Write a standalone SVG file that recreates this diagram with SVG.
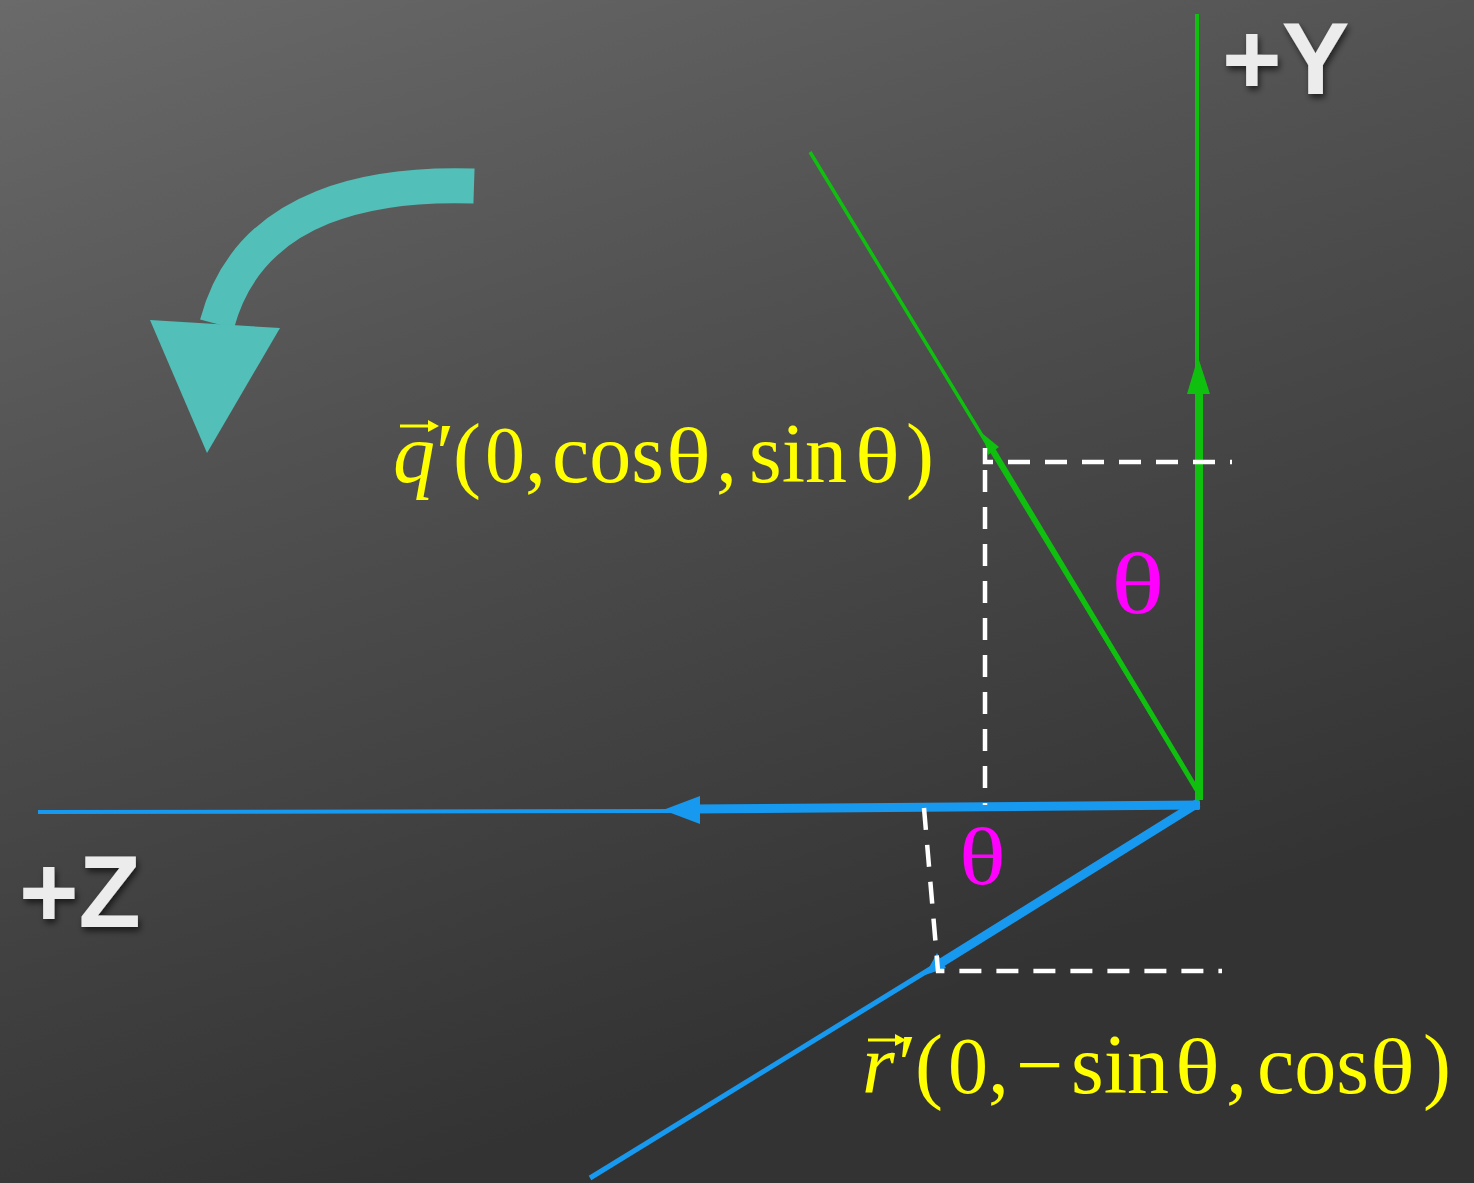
<svg xmlns="http://www.w3.org/2000/svg" width="1474" height="1183" viewBox="0 0 1474 1183">
  <defs>
    <linearGradient id="bg" x1="0" y1="0" x2="400" y2="1183" gradientUnits="userSpaceOnUse">
      <stop offset="0" stop-color="#6a6a6a"/>
      <stop offset="0.4" stop-color="#525252"/>
      <stop offset="1" stop-color="#333333"/>
    </linearGradient>
    <filter id="shadow" x="-20%" y="-20%" width="140%" height="150%">
      <feDropShadow dx="2" dy="4" stdDeviation="3" flood-color="#000" flood-opacity="0.6"/>
    </filter>
  </defs>
  <style>
    .axis { font-family: "Liberation Sans", Arial, sans-serif; font-weight: bold; font-size: 102px; fill: #ececec; }
    .math { font-family: "Liberation Serif", "Times New Roman", serif; font-size: 84px; fill: #ffff00; }
    .mth { font-family: "Liberation Serif", "Times New Roman", serif; font-size: 78px; fill: #ffff00; }
    .it { font-style: italic; }
    .theta { font-family: "Liberation Serif", "Times New Roman", serif; fill: #ff00ff; }
    .dash { fill: none; stroke: #ffffff; stroke-width: 4.5; stroke-dasharray: 22 15; }
    .green { stroke: #0fc00f; fill: none; }
    .greenfill { fill: #0fc00f; }
    .blue { stroke: #1799f0; fill: none; }
    .bluefill { fill: #1799f0; }
    .accent { stroke: #ffff00; stroke-width: 3; fill: none; }
    .accenthead { fill: #ffff00; }
  </style>

  <rect width="1474" height="1183" fill="url(#bg)"/>

  <g id="connectors">
    <!-- Y axis -->
    <line class="green" x1="1197" y1="14" x2="1197" y2="810" stroke-width="4"/>
    <line class="green" x1="1199" y1="390" x2="1199" y2="800" stroke-width="8"/>
    <polygon class="greenfill" points="1198,357 1187,394 1210,394"/>
    <!-- rotated q' -->
    <line class="green" x1="810" y1="152" x2="1200" y2="795" stroke-width="3.5"/>
    <line class="green" x1="992" y1="448" x2="1200" y2="795" stroke-width="5"/>
    <polygon class="greenfill" points="983,434 999,447 988,455"/>
    <!-- Z axis -->
    <line class="blue" x1="38" y1="812" x2="700" y2="811" stroke-width="4"/>
    <line class="blue" x1="695" y1="809" x2="1200" y2="805" stroke-width="9"/>
    <polygon class="bluefill" points="663,810 700,796 700,824"/>
    <!-- rotated r' -->
    <line class="blue" x1="940" y1="963" x2="590" y2="1178" stroke-width="5"/>
    <line class="blue" x1="1198" y1="803" x2="936" y2="966" stroke-width="9"/>
    <polygon class="bluefill" points="925,975 937,953 946,968"/>
    <!-- dashed projections -->
    <path class="dash" d="M 985 448 L 985 462 L 1232 462"/>
    <path class="dash" d="M 985 470 L 985 805"/>
    <path class="dash" d="M 924 808 L 938 971 L 1222 971"/>
  </g>

  <g id="rotation-arrow">
    <path d="M 474 186 C 380 183, 250 200, 217 324" fill="none" stroke="#52bfb8" stroke-width="35"/>
    <polygon points="150,320 280,328 207,453" fill="#52bfb8"/>
  </g>

  <g id="label-y" filter="url(#shadow)">
    <text class="axis" x="1222" y="94">+Y</text>
  </g>
  <g id="label-z" filter="url(#shadow)">
    <text class="axis" x="19" y="927">+Z</text>
  </g>

  <g id="label-q">
    <line class="accent" x1="400" y1="426" x2="430" y2="426"/>
    <polygon class="accenthead" points="439,426 428,420 428,432"/>
    <text class="math" y="482"><tspan class="it" x="393">q</tspan><tspan x="436">′</tspan><tspan x="453">(</tspan><tspan x="485" font-size="80">0</tspan><tspan x="525">,</tspan><tspan x="552">cos</tspan><tspan x="716">,</tspan><tspan x="749">sin</tspan><tspan x="906">)</tspan></text>
    <text class="mth" transform="translate(666,482) scale(1.2,1)">θ</text>
    <text class="mth" transform="translate(855,482) scale(1.2,1)">θ</text>
  </g>

  <g id="label-r">
    <line class="accent" x1="868" y1="1040" x2="897" y2="1040"/>
    <polygon class="accenthead" points="906,1040 895,1034 895,1046"/>
    <text class="math" y="1093"><tspan class="it" x="862">r</tspan><tspan x="898">′</tspan><tspan x="915">(</tspan><tspan x="948" font-size="80">0</tspan><tspan x="988">,</tspan><tspan x="1016">−</tspan><tspan x="1071">sin</tspan><tspan x="1226">,</tspan><tspan x="1257">cos</tspan><tspan x="1423">)</tspan></text>
    <text class="mth" transform="translate(1175,1093) scale(1.2,1)">θ</text>
    <text class="mth" transform="translate(1370,1093) scale(1.2,1)">θ</text>
  </g>

  <g id="theta-top">
    <text class="theta" font-size="86" transform="translate(1111,613) scale(1.3,1)">θ</text>
  </g>
  <g id="theta-bottom">
    <text class="theta" font-size="80" transform="translate(959,884) scale(1.22,1)">θ</text>
  </g>
</svg>
